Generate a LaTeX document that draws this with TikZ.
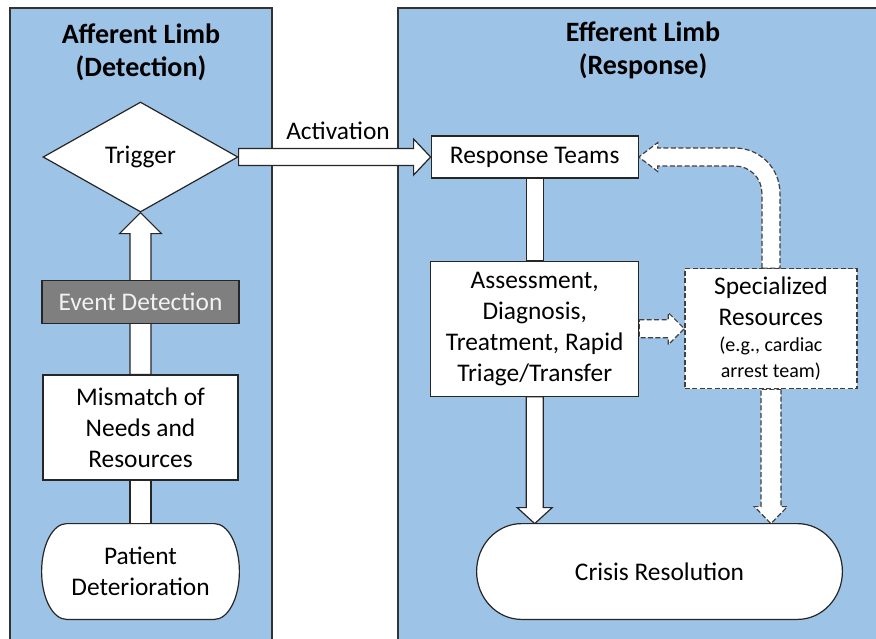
\documentclass[tikz,border=0pt]{standalone}
\usepackage{fontspec}
\setmainfont{Carlito}
\usetikzlibrary{positioning,calc,shapes.geometric}
\pgfdeclarelayer{panels}
\pgfdeclarelayer{links}
\pgfdeclarelayer{outlines}
\pgfsetlayers{panels,links,outlines,main}
\definecolor{limbblue}{HTML}{9DC3E6}
\definecolor{detgray}{HTML}{7F7F7F}
\newcommand\bodyfont{\fontsize{12.7}{15.5}\selectfont}
\newcommand\headfont{\fontsize{14}{16.5}\selectfont\bfseries}
\newcommand\notefont{\fontsize{10}{12}\selectfont}
\tikzset{limb/.style={fill=limbblue, draw=black!80, line width=0.6pt}}
\tikzset{box/.style={draw=black!85, fill=white, line width=0.6pt, align=center, inner sep=2pt, font=\bodyfont}}
\tikzset{dbox/.style={box, draw=black!75, dash pattern=on 2.5pt off 1.2pt}}
\tikzset{term/.style={align=center, inner sep=0pt, font=\bodyfont}}
\tikzset{termline/.style={draw=black!85, fill=white, line width=0.6pt}}
\tikzset{blk/.style={draw=black!85, fill=white, line width=0.6pt, line join=miter}}
\tikzset{dblk/.style={draw=black!75, dash pattern=on 2.5pt off 1.2pt}}
\tikzset{head/.style={align=center, font=\headfont}}
\newcommand\blockarr[6][]{
		\path ($(#3)!#6!(#2)$) coordinate (hb);
		\draw[blk, #1] ($(#2)!#4!90:(#3)$) -- ($(hb)!#4!90:(#3)$) -- ($(hb)!#5!90:(#3)$) -- (#3)
			-- ($(hb)!#5!-90:(#3)$) -- ($(hb)!#4!-90:(#3)$) -- ($(#2)!#4!-90:(#3)$) -- cycle;
	}
\newcommand\blockbar[4][]{
		\draw[blk, #1] ($(#2)!#4!90:(#3)$) -- ($(#3)!#4!-90:(#2)$) -- ($(#3)!#4!90:(#2)$) -- ($(#2)!#4!-90:(#3)$) -- cycle;
	}
\newcommand\termshape[2]{
		\draw[termline] let \p1=(#1.north west), \p2=(#1.south east), \n1={(\y1-\y2)/2} in
			(\x1+#2,\y1) -- (\x2-#2,\y1) arc[start angle=90, end angle=-90, x radius=#2, y radius=\n1]
			-- (\x1+#2,\y2) arc[start angle=270, end angle=90, x radius=#2, y radius=\n1] -- cycle;
	}

\begin{document}
\begin{tikzpicture}[x=0.5pt, y=-0.5pt]
			\useasboundingbox (0,0) rectangle (876,638);
			\begin{pgfonlayer}{panels}
				\fill[white] (0,0) rectangle (876,638);
				\draw[limb] (10,8) rectangle (272,660);
				\draw[limb] (398,8) rectangle (890,660);
			\end{pgfonlayer}

			\node[head] (afftitle) at (141,52) {Afferent Limb\\(Detection)};
			\node[head] (efftitle) at (643,50) {Efferent Limb\\(Response)};

			\node[box, diamond, aspect=1.8, minimum width=97.5pt, minimum height=55pt, inner sep=0pt] (trig) at (140.5,157) {Trigger};
			\node[box, minimum width=103.5pt, minimum height=21pt, right=96pt of trig] (resp) {Response Teams};
			\node[box, minimum width=104pt, minimum height=67.5pt, below=41pt of resp] (assess) {Assessment,\\Diagnosis,\\Treatment, Rapid\\Triage/Transfer};
			\node[box, dbox, minimum width=86pt, minimum height=60pt, right=22.5pt of assess] (spec)
				{Specialized\\Resources\\[-2.5pt]\notefont(e.g., cardiac\\[-2.5pt]\notefont arrest team)};

			\node[term, minimum width=182.5pt, minimum height=47.5pt] (crisis) at (659.5,571.5) {Crisis Resolution};
			\node[term, minimum width=98.5pt, minimum height=47.5pt] (patient) at (140.5,571.5) {Patient\\Deterioration};
			\node[box, minimum width=97.5pt, minimum height=52.5pt, above=21.5pt of patient] (mism) {Mismatch of\\Needs and\\Resources};
			\node[box, fill=detgray, text=black!5, minimum width=98.5pt, minimum height=21.5pt, above=25pt of mism] (evt) {Event Detection};
			\node[font=\bodyfont] (actlab) at (338,131) {Activation};

			\coordinate (crisisL) at (assess.south |- crisis.north);
			\coordinate (crisisR) at (spec.south |- crisis.north);

			\begin{pgfonlayer}{outlines}
				\termshape{patient}{12.5pt}
				\termshape{crisis}{22.5pt}
			\end{pgfonlayer}

			\begin{pgfonlayer}{links}
				\blockbar{patient.north}{mism.south}{5.25pt}
				\blockarr{mism.north}{trig.south}{5.25pt}{10.5pt}{10.5pt}
				\blockarr{trig.east}{resp.west}{4.25pt}{9pt}{8.5pt}
				\blockbar{resp.south}{assess.north}{4.25pt}
				\blockarr{assess.south}{crisisL}{4.25pt}{8.75pt}{8pt}
				\blockarr[dblk]{assess.east}{spec.west}{4.5pt}{8pt}{8pt}
				\blockarr[dblk]{spec.south}{crisisR}{5pt}{8.25pt}{8.5pt}
				\draw[blk, dblk] let \p1=(spec.north), \p2=(resp.east) in
					(\x1-4.5pt,\y1) -- (\x1-4.5pt,\y2-18pt) arc[start angle=0, end angle=90, radius=13.5pt]
					-- (\x2+9.5pt,\y2-4.5pt) -- (\x2+9.5pt,\y2-7.25pt) -- (\x2,\y2) -- (\x2+9.5pt,\y2+7.25pt) -- (\x2+9.5pt,\y2+4.5pt)
					-- (\x1-18pt,\y2+4.5pt) arc[start angle=90, end angle=0, radius=22.5pt] -- (\x1+4.5pt,\y1) -- cycle;
			\end{pgfonlayer}
		\end{tikzpicture}
\end{document}
